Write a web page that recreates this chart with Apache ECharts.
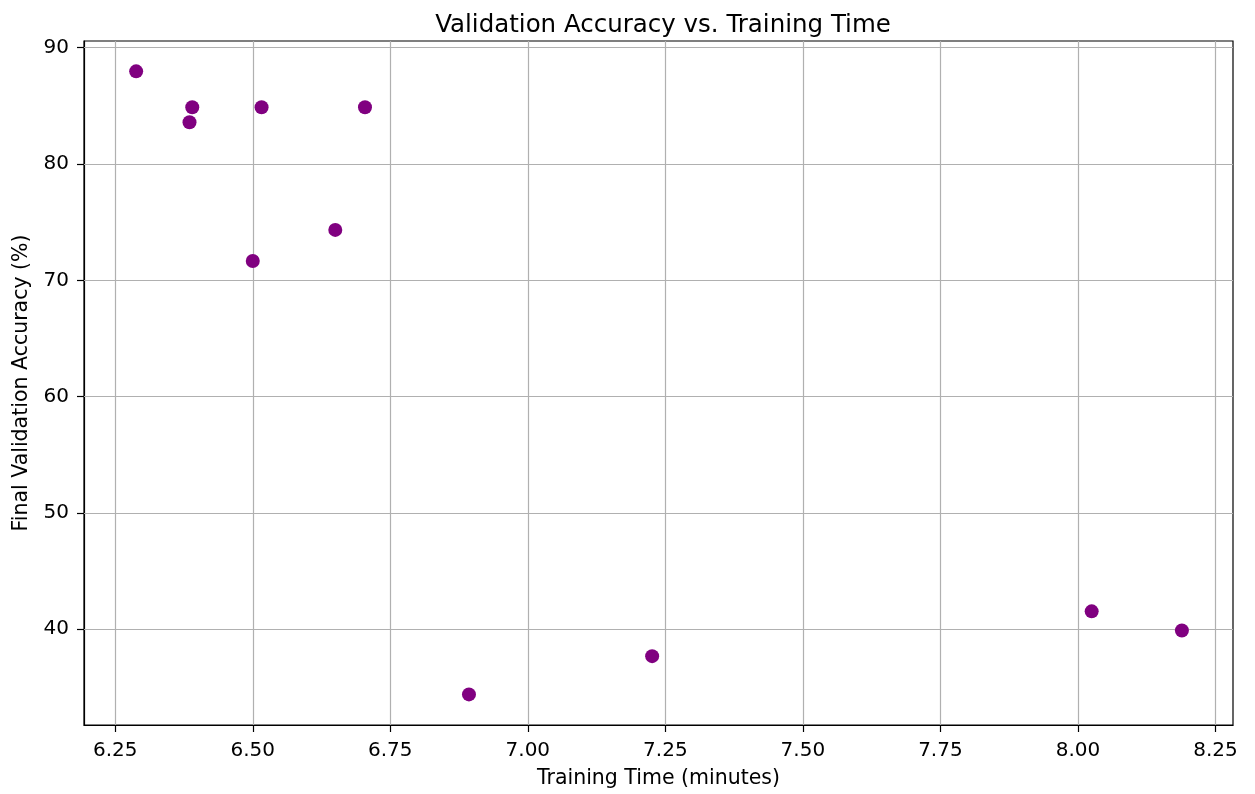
<!DOCTYPE html>
<html>
<head>
<meta charset="utf-8">
<script src="https://cdn.jsdelivr.net/npm/echarts@6/dist/echarts.min.js"></script>
<style>
html,body{margin:0;padding:0;background:#fff;}
#chart{width:1255px;height:794px;}
</style>
</head>
<body>
<div id="chart"></div>
<script>
// Data
const trainingTime = [6.288, 6.390, 6.385, 6.516, 6.704, 6.650, 6.500, 6.893, 7.226, 8.025, 8.189];
const validationAccuracy = [87.97, 84.88, 83.6, 84.88, 84.88, 74.34, 71.66, 34.4, 37.69, 41.54, 39.89];
const xTicks = [6.25, 6.5, 6.75, 7.0, 7.25, 7.5, 7.75, 8.0, 8.25];
const yTicks = [40, 50, 60, 70, 80, 90];

const points = trainingTime.map((t, i) => [t, validationAccuracy[i]]);
const font = 'DejaVu Sans';

const chart = echarts.init(document.getElementById('chart'), null, {renderer: 'canvas'});
chart.setOption({
  animation: false,
  backgroundColor: '#fff',
  title: {
    text: 'Validation Accuracy vs. Training Time',
    left: 658, top: 8, textAlign: 'center',
    textStyle: {fontFamily: font, fontSize: 24.5, fontWeight: 'normal', color: '#000'}
  },
  grid: {left: 84, right: 22, top: 41, bottom: 67, show: true, borderColor: '#000', borderWidth: 1.2, backgroundColor: 'transparent'},
  xAxis: {
    type: 'value', min: 6.1932, max: 8.2819,
    name: 'Training Time (minutes)', nameLocation: 'middle', nameGap: 43,
    nameTextStyle: {fontFamily: font, fontSize: 20.5, color: '#000'},
    axisLine: {show: true, onZero: false, lineStyle: {color: '#000', width: 1.2}},
    axisTick: {show: true, inside: false, length: 7, customValues: xTicks, lineStyle: {color: '#000', width: 1.2}},
    axisLabel: {margin: 16, fontFamily: font, fontSize: 20, color: '#000', customValues: xTicks,
      formatter: v => v.toFixed(2)},
    splitLine: {show: false}
  },
  yAxis: {
    type: 'value', min: 31.77, max: 90.58,
    name: 'Final Validation Accuracy (%)', nameLocation: 'middle', nameGap: 50, nameRotate: 90,
    nameTextStyle: {fontFamily: font, fontSize: 20.5, color: '#000'},
    axisLine: {show: true, onZero: false, lineStyle: {color: '#000', width: 1.2}},
    axisTick: {show: true, inside: false, length: 7, customValues: yTicks, lineStyle: {color: '#000', width: 1.2}},
    axisLabel: {margin: 15, fontFamily: font, fontSize: 20, color: '#000', customValues: yTicks,
      formatter: v => String(Math.round(v))},
    splitLine: {show: false}
  },
  series: [
    {
      type: 'line', data: [], silent: true,
      markLine: {
        silent: true, symbol: 'none', label: {show: false}, animation: false,
        lineStyle: {color: '#b0b0b0', width: 1.2, type: 'solid'},
        data: xTicks.map(v => ({xAxis: v})).concat(yTicks.map(v => ({yAxis: v})))
      }
    },
    {
      type: 'scatter', data: points, symbol: 'circle', symbolSize: 14,
      itemStyle: {color: '#800080', opacity: 1}, z: 5
    }
  ]
});
</script>
</body>
</html>
